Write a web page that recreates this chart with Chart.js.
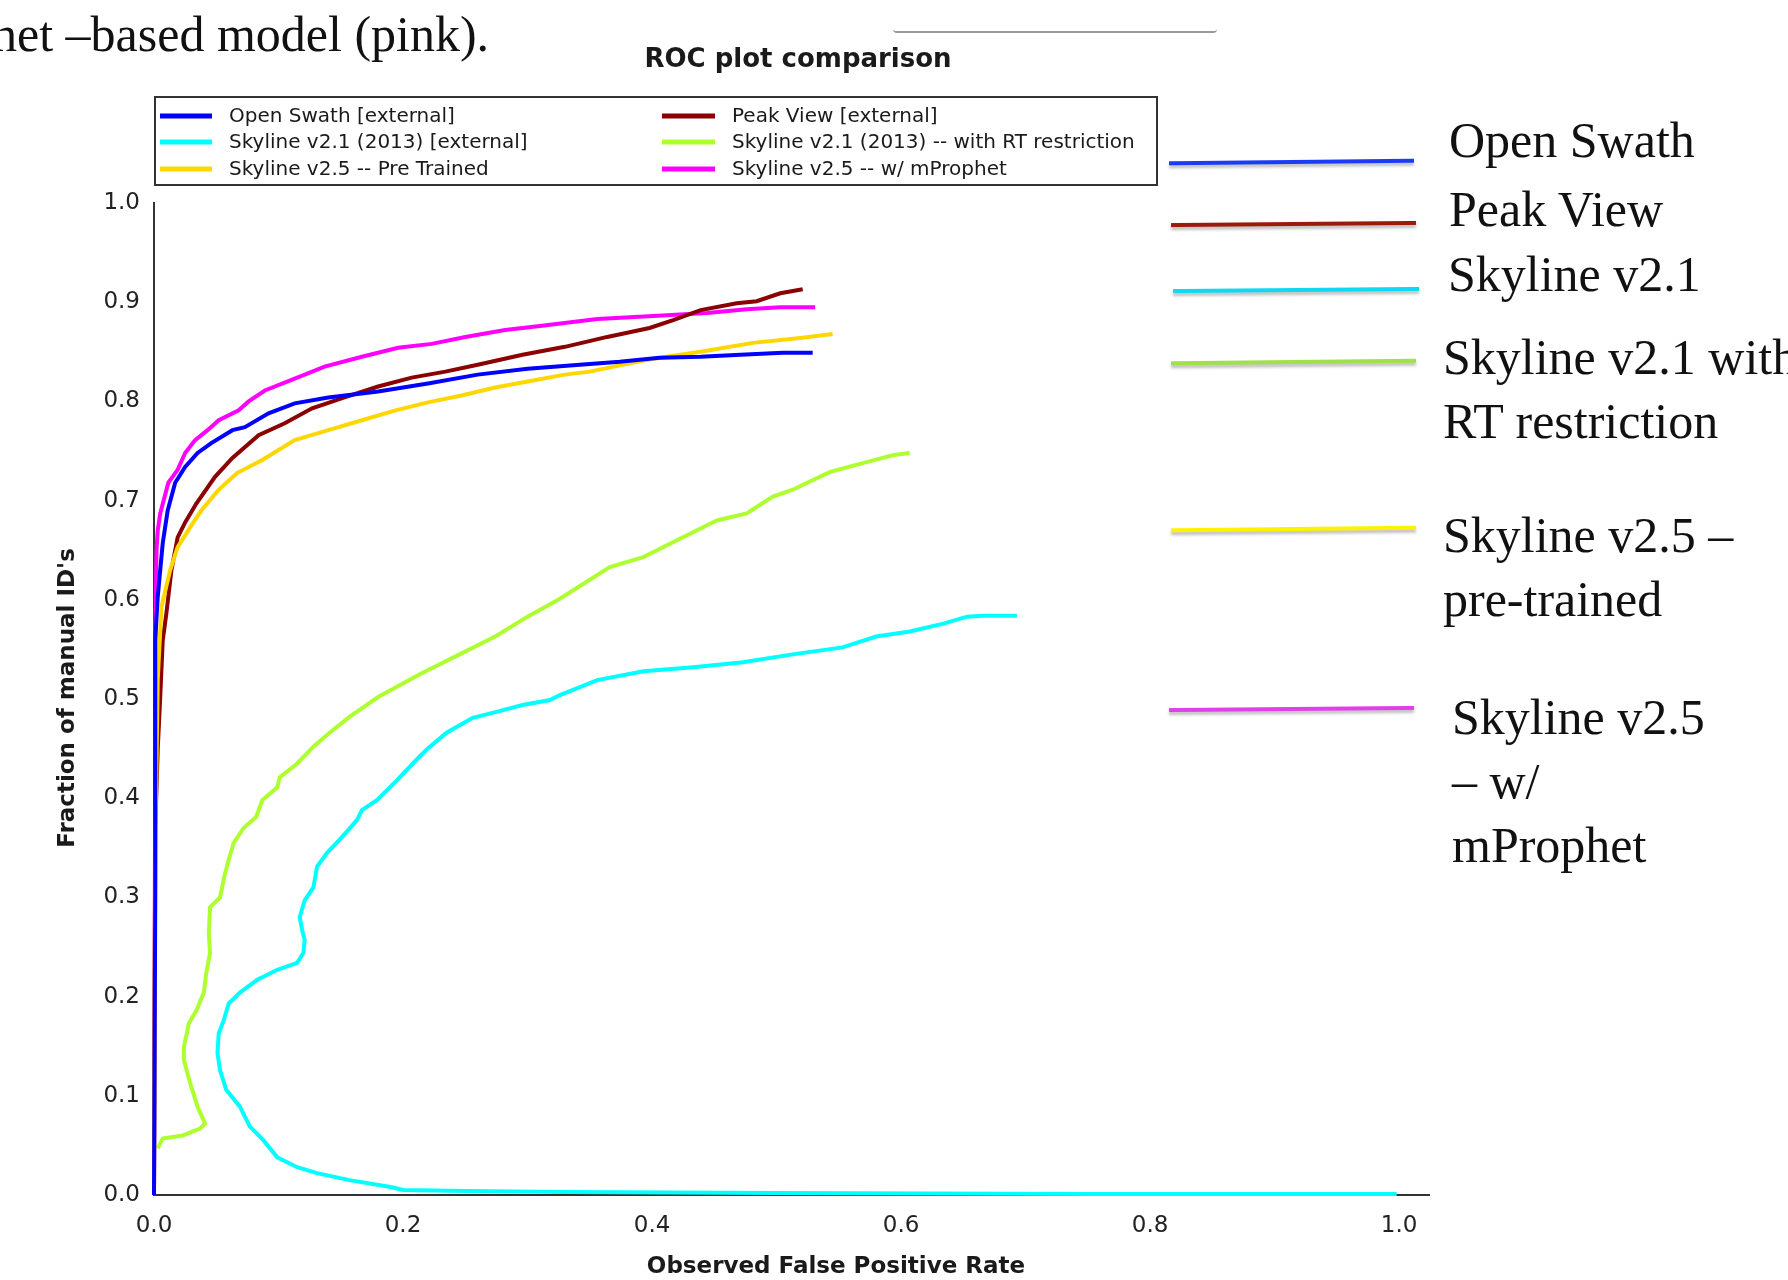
<!DOCTYPE html>
<html lang="en">
<head>
    <meta charset="UTF-8">
    <title>ROC plot comparison</title>
    <script src="https://cdn.jsdelivr.net/npm/chart.js"></script>
    <style>
        body {
            margin: 0;
            width: 1788px;
            height: 1280px;
            overflow: hidden;
            background: white;
            position: relative;
            font-family: "Liberation Serif", serif;
        }
        #wrap {
            position: absolute;
            left: 0;
            top: 0;
            width: 1788px;
            height: 1280px;
        }
        .note {
            position: absolute;
            font-size: 50px;
            line-height: 64px;
            color: #111;
            white-space: nowrap;
        }
        .swatch {
            position: absolute;
            height: 4px;
            box-shadow: 0 3px 3px rgba(0, 0, 0, 0.25);
        }
        #topline {
            position: absolute;
            left: 893px;
            top: 28px;
            width: 324px;
            height: 3px;
            border-bottom: 2px solid #9a9a9a;
            border-radius: 0 0 4px 4px;
        }
    </style>
</head>
<body>

    <div id="wrap"><canvas id="rocChart"></canvas></div>

    <div class="note" style="left:-8px; top:2px;">het –based model (pink).</div>
    <div id="topline"></div>

    <div class="swatch" style="left:1169px; top:160px; width:245px; background:#1a3cf5; transform:rotate(-0.6deg);"></div>
    <div class="swatch" style="left:1171px; top:222px; width:245px; background:#9c1a0a; transform:rotate(-0.5deg);"></div>
    <div class="swatch" style="left:1173px; top:288px; width:246px; background:#10d8f0; transform:rotate(-0.5deg);"></div>
    <div class="swatch" style="left:1171px; top:360px; width:245px; background:#a0e048; transform:rotate(-0.6deg);"></div>
    <div class="swatch" style="left:1171px; top:527px; width:245px; background:#fff200; transform:rotate(-0.6deg);"></div>
    <div class="swatch" style="left:1169px; top:707px; width:245px; background:#e040e8; transform:rotate(-0.5deg);"></div>

    <div class="note" style="left:1449px; top:108px;">Open Swath</div>
    <div class="note" style="left:1449px; top:177px;">Peak View</div>
    <div class="note" style="left:1448px; top:242px;">Skyline v2.1</div>
    <div class="note" style="left:1443px; top:325px;">Skyline v2.1 with<br>RT restriction</div>
    <div class="note" style="left:1443px; top:503px;">Skyline v2.5 –<br>pre-trained</div>
    <div class="note" style="left:1452px; top:685px;">Skyline v2.5<br>– w/<br>mProphet</div>

    <script>
        // series (x = observed FPR, y = fraction of manual IDs)
        const openSwathX = [0, 0.001, 0.001, 0.003, 0.007, 0.011, 0.017, 0.025, 0.035, 0.046, 0.063, 0.073, 0.092, 0.113, 0.140, 0.180, 0.220, 0.260, 0.300, 0.342, 0.374, 0.406, 0.439, 0.471, 0.505, 0.529];
        const openSwathY = [0, 0.30, 0.56, 0.603, 0.657, 0.690, 0.718, 0.734, 0.748, 0.758, 0.771, 0.774, 0.788, 0.798, 0.804, 0.810, 0.818, 0.827, 0.833, 0.837, 0.840, 0.844, 0.845, 0.847, 0.849, 0.849];

        const sky21X = [0.998, 0.75, 0.50, 0.33, 0.25, 0.20, 0.190, 0.157, 0.131, 0.115, 0.099, 0.088, 0.077, 0.069, 0.058, 0.053, 0.051, 0.052, 0.056, 0.060, 0.069, 0.083, 0.099, 0.115, 0.120, 0.121, 0.119, 0.117, 0.121, 0.128, 0.131, 0.139, 0.149, 0.163, 0.167, 0.179, 0.195, 0.211, 0.219, 0.235, 0.256, 0.275, 0.296, 0.318, 0.326, 0.356, 0.393, 0.433, 0.473, 0.513, 0.553, 0.580, 0.607, 0.634, 0.653, 0.666, 0.693];
        const sky21Y = [0.001, 0.001, 0.002, 0.003, 0.004, 0.005, 0.008, 0.015, 0.022, 0.028, 0.038, 0.055, 0.069, 0.089, 0.106, 0.126, 0.143, 0.163, 0.176, 0.193, 0.204, 0.217, 0.227, 0.234, 0.244, 0.257, 0.267, 0.280, 0.297, 0.310, 0.331, 0.345, 0.358, 0.378, 0.388, 0.398, 0.418, 0.439, 0.449, 0.466, 0.481, 0.487, 0.494, 0.499, 0.504, 0.519, 0.528, 0.532, 0.537, 0.545, 0.552, 0.563, 0.568, 0.576, 0.583, 0.584, 0.584];

        const preTrainedX = [0, 0.001, 0.003, 0.006, 0.013, 0.019, 0.029, 0.038, 0.052, 0.067, 0.087, 0.113, 0.140, 0.167, 0.194, 0.220, 0.247, 0.274, 0.300, 0.330, 0.350, 0.396, 0.439, 0.481, 0.519, 0.545];
        const preTrainedY = [0, 0.35, 0.52, 0.593, 0.630, 0.653, 0.673, 0.690, 0.711, 0.728, 0.741, 0.761, 0.771, 0.781, 0.791, 0.799, 0.806, 0.814, 0.820, 0.827, 0.830, 0.842, 0.850, 0.859, 0.864, 0.868];

        const peakViewX = [0, 0.001, 0.003, 0.005, 0.007, 0.010, 0.014, 0.019, 0.025, 0.034, 0.049, 0.063, 0.084, 0.105, 0.127, 0.153, 0.180, 0.207, 0.234, 0.260, 0.296, 0.330, 0.364, 0.398, 0.417, 0.439, 0.468, 0.484, 0.503, 0.521];
        const peakViewY = [0, 0.37, 0.45, 0.502, 0.559, 0.587, 0.630, 0.663, 0.678, 0.697, 0.724, 0.743, 0.766, 0.778, 0.793, 0.804, 0.815, 0.824, 0.830, 0.837, 0.847, 0.855, 0.865, 0.874, 0.882, 0.892, 0.899, 0.901, 0.909, 0.913];

        const rtRestrX = [0.003, 0.007, 0.023, 0.037, 0.041, 0.035, 0.029, 0.024, 0.024, 0.028, 0.034, 0.040, 0.042, 0.045, 0.044, 0.045, 0.053, 0.057, 0.060, 0.064, 0.072, 0.082, 0.087, 0.099, 0.101, 0.115, 0.128, 0.141, 0.157, 0.180, 0.215, 0.247, 0.274, 0.300, 0.326, 0.366, 0.393, 0.420, 0.452, 0.476, 0.497, 0.513, 0.543, 0.573, 0.594, 0.607];
        const rtRestrY = [0.047, 0.057, 0.060, 0.067, 0.072, 0.089, 0.113, 0.136, 0.149, 0.173, 0.186, 0.204, 0.224, 0.244, 0.264, 0.290, 0.300, 0.324, 0.338, 0.355, 0.370, 0.381, 0.398, 0.411, 0.421, 0.435, 0.452, 0.466, 0.482, 0.502, 0.526, 0.546, 0.563, 0.583, 0.601, 0.633, 0.643, 0.660, 0.680, 0.687, 0.704, 0.711, 0.729, 0.739, 0.746, 0.748];

        const mProphetX = [0, 0.001, 0.001, 0.002, 0.003, 0.005, 0.0115, 0.019, 0.025, 0.033, 0.043, 0.052, 0.068, 0.076, 0.089, 0.111, 0.137, 0.167, 0.196, 0.223, 0.250, 0.282, 0.310, 0.356, 0.401, 0.444, 0.476, 0.503, 0.531];
        const mProphetY = [0, 0.45, 0.556, 0.650, 0.670, 0.687, 0.718, 0.731, 0.748, 0.761, 0.771, 0.781, 0.791, 0.800, 0.811, 0.822, 0.835, 0.845, 0.854, 0.858, 0.865, 0.872, 0.876, 0.883, 0.886, 0.889, 0.893, 0.895, 0.895];

        const seriesLabels = [
            'Open Swath [external]',
            'Skyline v2.1 (2013) [external]',
            'Skyline v2.5 -- Pre Trained',
            'Peak View [external]',
            'Skyline v2.1 (2013) -- with RT restriction',
            'Skyline v2.5 -- w/ mProphet'
        ];
        const seriesColors = ['#0000ff', '#00ffff', '#ffd700', '#8b0000', '#adff2f', '#ff00ff'];
        const seriesX = [openSwathX, sky21X, preTrainedX, peakViewX, rtRestrX, mProphetX];
        const seriesY = [openSwathY, sky21Y, preTrainedY, peakViewY, rtRestrY, mProphetY];

        const xTicks = [0, 0.2, 0.4, 0.6, 0.8, 1.0];

        function toPoints(xs, ys) {
            return xs.map((x, i) => ({ x: x, y: ys[i] }));
        }

        const datasets = seriesLabels.map((label, i) => ({
            label: label,
            data: toPoints(seriesX[i], seriesY[i]),
            borderColor: seriesColors[i],
            backgroundColor: seriesColors[i],
            borderWidth: 4,
            pointRadius: 0,
            showLine: true,
            tension: 0,
            clip: false
        }));

        // title, boxed two-column legend and axis titles
        const decorPlugin = {
            id: 'decor',
            afterDraw(chart) {
                const ctx = chart.ctx;
                ctx.save();
                ctx.fillStyle = '#1a1a1a';
                ctx.textBaseline = 'middle';

                ctx.font = 'bold 26px "DejaVu Sans"';
                ctx.textAlign = 'center';
                ctx.fillText('ROC plot comparison', 798, 60);

                ctx.font = 'bold 23px "DejaVu Sans"';
                ctx.fillText('Observed False Positive Rate', 836, 1267);

                ctx.save();
                ctx.translate(68, 698);
                ctx.rotate(-Math.PI / 2);
                ctx.fillText("Fraction of manual ID's", 0, 0);
                ctx.restore();

                // legend box
                ctx.strokeStyle = '#333';
                ctx.lineWidth = 2;
                ctx.strokeRect(155, 97, 1002, 88);

                const rows = [116, 142, 169];
                const cols = [{ l0: 160, l1: 212, t: 229 }, { l0: 662, l1: 715, t: 732 }];
                ctx.font = '20px "DejaVu Sans"';
                ctx.textAlign = 'left';
                chart.data.datasets.forEach((ds, i) => {
                    const c = cols[Math.floor(i / 3)];
                    const y = rows[i % 3];
                    ctx.strokeStyle = ds.borderColor;
                    ctx.lineWidth = 5;
                    ctx.beginPath();
                    ctx.moveTo(c.l0, y);
                    ctx.lineTo(c.l1, y);
                    ctx.stroke();
                    ctx.fillStyle = '#1a1a1a';
                    ctx.fillText(ds.label, c.t, y + 1);
                });
                ctx.restore();
            }
        };

        Chart.defaults.font.family = '"DejaVu Sans"';
        Chart.defaults.color = '#222';

        new Chart(document.getElementById('rocChart'), {
            type: 'scatter',
            data: { datasets: datasets },
            options: {
                responsive: true,
                maintainAspectRatio: false,
                animation: false,
                layout: { padding: { left: 0, top: 203, right: 359, bottom: 0 } },
                plugins: {
                    legend: { display: false },
                    tooltip: { enabled: false },
                    title: { display: false }
                },
                scales: {
                    x: {
                        type: 'linear',
                        min: 0,
                        max: 1.024,
                        afterFit: (s) => { s.height = 85; },
                        afterBuildTicks: (s) => { s.ticks = xTicks.map(v => ({ value: v })); },
                        grid: { display: false, drawTicks: false },
                        border: { display: true, color: '#333', width: 2 },
                        ticks: {
                            padding: 17,
                            font: { size: 23 },
                            callback: (v) => Number(v).toFixed(1)
                        }
                    },
                    y: {
                        type: 'linear',
                        min: 0,
                        max: 1,
                        afterFit: (s) => { s.width = 154; },
                        grid: { display: false, drawTicks: false },
                        border: { display: true, color: '#333', width: 2 },
                        ticks: {
                            stepSize: 0.1,
                            padding: 14,
                            font: { size: 23 },
                            callback: (v) => Number(v).toFixed(1)
                        }
                    }
                }
            },
            plugins: [decorPlugin]
        });
    </script>

</body>
</html>
